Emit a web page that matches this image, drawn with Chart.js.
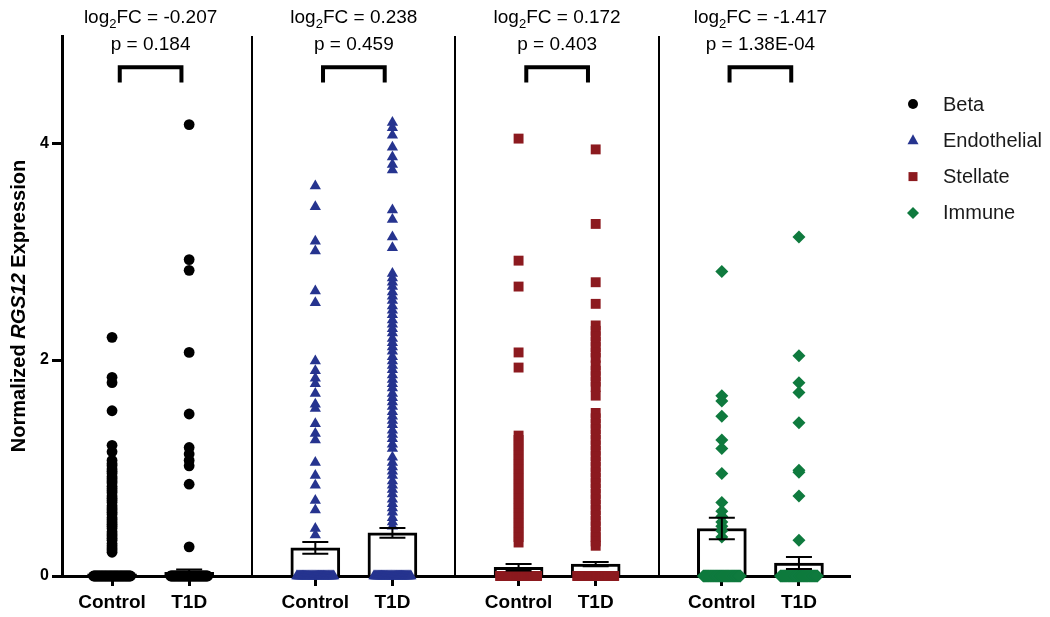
<!DOCTYPE html>
<html><head><meta charset="utf-8">
<script src="https://cdn.jsdelivr.net/npm/chart.js@4.4.1/dist/chart.umd.min.js"></script>
<style>html,body{margin:0;padding:0;background:#fff}#wrap{width:1050px;height:617px;position:relative}</style>
</head><body><div id="wrap"><canvas id="c" width="1050" height="617"></canvas></div>
<script>
// ---------------- DATA ----------------
const cellTypes = ['Beta', 'Endothelial', 'Stellate', 'Immune'];
const conditions = ['Control', 'T1D'];
const log2FC = ['-0.207', '0.238', '0.172', '-1.417'];
const pValues = ['0.184', '0.459', '0.403', '1.38E-04'];
const yTickValues = [0, 2, 4];
const meanControl = [0.02, 0.26, 0.08, 0.44];
const meanT1D = [0.035, 0.40, 0.11, 0.12];
const semControl = [0.01, 0.055, 0.03, 0.10];
const semT1D = [0.025, 0.045, 0.02, 0.055];
const zeroCountControl = [40, 40, 40, 40];
const zeroCountT1D = [40, 40, 40, 40];

const betaControl = [2.21, 1.84, 1.79, 1.53, 1.21, 1.15, 1.07, 1.04, 1.02, 0.99, 0.97, 0.95, 0.92, 0.90, 0.88, 0.86,
  0.83, 0.81, 0.79, 0.77, 0.74, 0.72, 0.70, 0.68, 0.65, 0.63, 0.61, 0.59, 0.57, 0.54, 0.52, 0.50, 0.48, 0.46,
  0.44, 0.41, 0.39, 0.37, 0.35, 0.33, 0.30, 0.28, 0.26, 0.24, 0.22];
const betaT1D = [4.18, 2.93, 2.83, 2.07, 1.50, 1.19, 1.13, 1.07, 1.02, 0.85, 0.27];

const endoControl = [3.61, 3.42, 3.10, 3.01, 2.64, 2.53, 1.99, 1.90, 1.83, 1.78, 1.69, 1.59, 1.55, 1.41, 1.32,
  1.26, 1.05, 0.93, 0.84, 0.70, 0.61, 0.44, 0.38];
const endoT1D = [4.20, 4.15, 4.08, 3.97, 3.88, 3.81, 3.76, 3.39, 3.30, 3.14, 3.04, 2.80, 2.76, 2.72, 2.68, 2.63,
  2.59, 2.55, 2.50, 2.46, 2.42, 2.37, 2.33, 2.29, 2.25, 2.20, 2.16, 2.12, 2.08, 2.03, 1.99, 1.95, 1.91, 1.86,
  1.82, 1.78, 1.74, 1.69, 1.65, 1.61, 1.57, 1.52, 1.48, 1.44, 1.40, 1.35, 1.31, 1.27, 1.22, 1.18, 1.10, 1.05,
  1.01, 0.97, 0.93, 0.88, 0.84, 0.80, 0.76, 0.71, 0.67, 0.63, 0.59, 0.54, 0.50, 0.46];

const stellateControl = [4.05, 2.92, 2.68, 2.07, 1.93, 1.30, 1.26, 1.21, 1.17, 1.12, 1.08, 1.03, 0.99, 0.94, 0.90,
  0.85, 0.81, 0.76, 0.72, 0.67, 0.63, 0.58, 0.54, 0.49, 0.45, 0.40, 0.36, 0.31];
const stellateT1D = [3.95, 3.26, 2.72, 2.52, 2.32, 2.27, 2.22, 2.17, 2.12, 2.07, 2.02, 1.95, 1.90, 1.85, 1.80, 1.75,
  1.67, 1.51, 1.46, 1.41, 1.36, 1.31, 1.26, 1.21, 1.16, 1.11, 1.06, 1.01, 0.96, 0.91, 0.86, 0.81, 0.76, 0.71,
  0.66, 0.61, 0.56, 0.51, 0.46, 0.41, 0.36, 0.32, 0.28];

const immuneControl = [2.82, 1.67, 1.62, 1.48, 1.26, 1.18, 0.95, 0.68, 0.60, 0.55, 0.50, 0.46, 0.42, 0.36];
const immuneT1D = [3.14, 2.04, 1.79, 1.70, 1.42, 0.98, 0.96, 0.74, 0.33];

const controlValues = [betaControl, endoControl, stellateControl, immuneControl];
const t1dValues = [betaT1D, endoT1D, stellateT1D, immuneT1D];

// ---------------- STYLE / LAYOUT ----------------
const FONT = '"Liberation Sans", Arial, Helvetica, sans-serif';
const colors = ['#000000', '#26348f', '#8c1a1f', '#0f7a3e'];
const pointStyles = ['circle', 'triangle', 'rect', 'rectRot'];
const pointRadii = [5.4, 6.5, 7, 6.5];
const GROUP_STEP = 2.636;       // x units between groups (1 unit = Control->T1D spacing)
const ZERO_SPREAD = 0.24;       // half-width of spread for zero values
const xPos = (g, c) => g * GROUP_STEP + c;

function buildPoints(g) {
  const pts = [];
  [controlValues[g], t1dValues[g]].forEach((vals, c) => {
    const n = c === 0 ? zeroCountControl[g] : zeroCountT1D[g];
    for (let i = 0; i < n; i++) {
      pts.push({ x: xPos(g, c) - ZERO_SPREAD + 2 * ZERO_SPREAD * i / (n - 1), y: 0 });
    }
    vals.forEach(v => pts.push({ x: xPos(g, c), y: v }));
  });
  return pts;
}

const barData = [];
const errData = [];
for (let g = 0; g < 4; g++) {
  barData.push({ x: xPos(g, 0), y: meanControl[g] });
  barData.push({ x: xPos(g, 1), y: meanT1D[g] });
  errData.push({ x: xPos(g, 0), m: meanControl[g], e: semControl[g] });
  errData.push({ x: xPos(g, 1), m: meanT1D[g], e: semT1D[g] });
}

const datasets = [{
  type: 'bar', label: 'Mean', data: barData, backgroundColor: '#ffffff', borderColor: '#000000',
  borderWidth: 3, barThickness: 49, grouped: false, order: 10, borderSkipped: 'start'
}];
cellTypes.forEach((ct, g) => {
  datasets.push({
    type: 'scatter', label: ct, data: buildPoints(g), pointStyle: pointStyles[g], radius: pointRadii[g],
    pointBackgroundColor: colors[g], pointBorderColor: colors[g], pointBorderWidth: 0, clip: false, order: 1,
    showLine: false
  });
});

const decorPlugin = {
  id: 'decor',
  beforeDatasetsDraw(chart) {
    const { ctx, chartArea, scales: { x } } = chart;
    ctx.save();
    ctx.strokeStyle = '#000'; ctx.lineWidth = 2;
    for (let g = 1; g < 4; g++) {
      const px = Math.round(x.getPixelForValue(g * GROUP_STEP - (GROUP_STEP - 1) / 2));
      ctx.beginPath(); ctx.moveTo(px, chartArea.top); ctx.lineTo(px, chartArea.bottom); ctx.stroke();
    }
    ctx.restore();
  },
  afterDatasetsDraw(chart) {
    const { ctx, scales: { x, y } } = chart;
    ctx.save();
    ctx.strokeStyle = '#000'; ctx.lineWidth = 2;
    errData.forEach(d => {
      const px = x.getPixelForValue(d.x);
      const yt = y.getPixelForValue(d.m + d.e), yb = y.getPixelForValue(Math.max(0, d.m - d.e));
      ctx.beginPath();
      ctx.moveTo(px, yt); ctx.lineTo(px, yb);
      ctx.moveTo(px - 13, yt); ctx.lineTo(px + 13, yt);
      ctx.moveTo(px - 13, yb); ctx.lineTo(px + 13, yb);
      ctx.stroke();
    });
    ctx.restore();
  },
  afterDraw(chart) {
    const { ctx, chartArea, scales: { x, y } } = chart;
    ctx.save();
    // brackets + annotation text
    for (let g = 0; g < 4; g++) {
      const mid = x.getPixelForValue(xPos(g, 0.5));
      const l = x.getPixelForValue(xPos(g, 0.5) - 0.4), r = x.getPixelForValue(xPos(g, 0.5) + 0.4);
      const yTop = y.getPixelForValue(4.71), yLeg = y.getPixelForValue(4.57);
      ctx.strokeStyle = '#000'; ctx.lineWidth = 4; ctx.lineJoin = 'miter'; ctx.lineCap = 'butt';
      ctx.beginPath(); ctx.moveTo(l, yLeg); ctx.lineTo(l, yTop); ctx.lineTo(r, yTop); ctx.lineTo(r, yLeg); ctx.stroke();

      ctx.fillStyle = '#000'; ctx.textBaseline = 'alphabetic'; ctx.textAlign = 'left';
      const big = '19px ' + FONT, small = '13px ' + FONT;
      const rest = 'FC = ' + log2FC[g];
      ctx.font = big; const w1 = ctx.measureText('log').width, w3 = ctx.measureText(rest).width;
      ctx.font = small; const w2 = ctx.measureText('2').width;
      let tx = mid - (w1 + w2 + w3) / 2;
      const b1 = chartArea.top - 13;
      ctx.font = big; ctx.fillText('log', tx, b1); tx += w1;
      ctx.font = small; ctx.fillText('2', tx, b1 + 5); tx += w2;
      ctx.font = big; ctx.fillText(rest, tx, b1);
      ctx.textAlign = 'center';
      ctx.fillText('p = ' + pValues[g], mid, chartArea.top + 14);
    }
    // y-axis title with italic gene name
    const parts = [['Normalized ', 'bold '], ['RGS12', 'italic bold '], [' Expression', 'bold ']];
    ctx.save();
    const cy = (chartArea.top + chartArea.bottom) / 2;
    ctx.translate(25, cy); ctx.rotate(-Math.PI / 2);
    let total = 0;
    parts.forEach(p => { ctx.font = p[1] + '20px ' + FONT; total += ctx.measureText(p[0]).width; });
    let px = -total / 2;
    ctx.textAlign = 'left'; ctx.textBaseline = 'alphabetic'; ctx.fillStyle = '#000';
    parts.forEach(p => { ctx.font = p[1] + '20px ' + FONT; ctx.fillText(p[0], px, 0); px += ctx.measureText(p[0]).width; });
    ctx.restore();
    // legend
    cellTypes.forEach((ct, g) => {
      const ly = 104 + g * 36.3;
      ctx.fillStyle = colors[g];
      ctx.beginPath();
      if (g === 0) { ctx.arc(913, ly, 5, 0, Math.PI * 2); }
      else if (g === 1) { ctx.moveTo(913, ly - 6); ctx.lineTo(918.5, ly + 4); ctx.lineTo(907.5, ly + 4); ctx.closePath(); }
      else if (g === 2) { ctx.rect(908.5, ly - 4.5, 9, 9); }
      else { ctx.moveTo(913, ly - 6); ctx.lineTo(919, ly); ctx.lineTo(913, ly + 6); ctx.lineTo(907, ly); ctx.closePath(); }
      ctx.fill();
      ctx.fillStyle = '#1a1a1a'; ctx.font = '20px ' + FONT; ctx.textAlign = 'left'; ctx.textBaseline = 'middle';
      ctx.fillText(ct, 943, ly + 1);
    });
    ctx.restore();
  }
};

const xTickValues = [];
for (let g = 0; g < 4; g++) { xTickValues.push(xPos(g, 0), xPos(g, 1)); }

new Chart(document.getElementById('c'), {
  type: 'scatter',
  data: { datasets },
  options: {
    responsive: false, devicePixelRatio: 1, animation: false,
    layout: { padding: { top: 36, right: 200, left: 0, bottom: 0 } },
    plugins: { legend: { display: false }, tooltip: { enabled: false } },
    scales: {
      x: {
        type: 'linear', min: -0.649, max: GROUP_STEP * 3 + 1.662, offset: false,
        afterBuildTicks: s => { s.ticks = xTickValues.map(v => ({ value: v })); },
        afterFit: s => { s.height = 41; },
        grid: { display: true, offset: false, drawOnChartArea: false, drawTicks: true, tickLength: 10, tickWidth: 3, tickColor: '#000' },
        border: { display: true, width: 3, color: '#000' },
        ticks: {
          autoSkip: false, maxRotation: 0, padding: 5, color: '#000',
          font: { family: FONT, size: 19, weight: 'bold' },
          callback: (v, i) => conditions[i % 2]
        }
      },
      y: {
        type: 'linear', min: 0, max: 5,
        afterBuildTicks: s => { s.ticks = yTickValues.map(v => ({ value: v })); },
        afterFit: s => { s.width = 62; },
        grid: { display: true, offset: false, drawOnChartArea: false, drawTicks: true, tickLength: 10, tickWidth: 3, tickColor: '#000' },
        border: { display: true, width: 3, color: '#000' },
        ticks: { padding: 3, color: '#000', font: { family: FONT, size: 16, weight: 'bold' } }
      }
    }
  },
  plugins: [decorPlugin]
});
</script></body></html>
